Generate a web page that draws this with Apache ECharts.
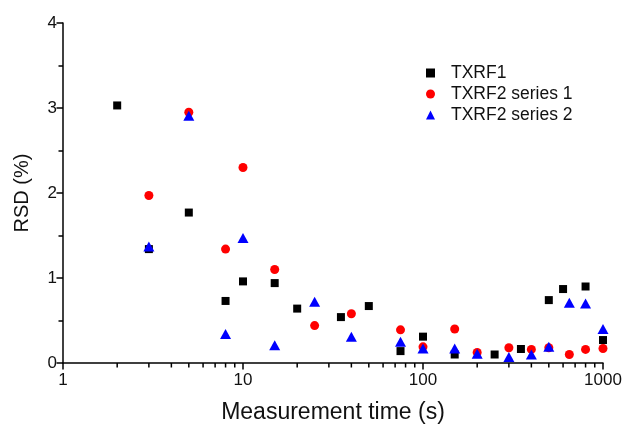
<!DOCTYPE html>
<html>
<head>
<meta charset="utf-8">
<script src="https://cdn.jsdelivr.net/npm/echarts@6/dist/echarts.min.js"></script>
<style>
html,body{margin:0;padding:0;background:#fff;}
#chart{width:630px;height:429px;}
</style>
</head>
<body>
<div id="chart"></div>
<script>
// TXRF1 (black squares)
const txrf1Time = [2, 3, 5, 8, 10, 15, 20, 35, 50, 75, 100, 150, 250, 350, 500, 600, 800, 1000];
const txrf1Rsd  = [3.03, 1.34, 1.77, 0.73, 0.96, 0.94, 0.64, 0.54, 0.67, 0.14, 0.31, 0.10, 0.10, 0.165, 0.74, 0.87, 0.90, 0.27];
// TXRF2 series 1 (red circles)
const s1Time = [3, 5, 8, 10, 15, 25, 40, 75, 100, 150, 200, 300, 400, 500, 650, 800, 1000];
const s1Rsd  = [1.97, 2.95, 1.34, 2.30, 1.10, 0.44, 0.58, 0.39, 0.19, 0.40, 0.125, 0.18, 0.16, 0.18, 0.10, 0.16, 0.17];
// TXRF2 series 2 (blue triangles)
const s2Time = [3, 5, 8, 10, 15, 25, 40, 75, 100, 150, 200, 300, 400, 500, 650, 800, 1000];
const s2Rsd  = [1.37, 2.91, 0.34, 1.47, 0.21, 0.72, 0.31, 0.25, 0.17, 0.17, 0.11, 0.07, 0.10, 0.19, 0.71, 0.70, 0.40];

const seriesNames = ['TXRF1', 'TXRF2 series 1', 'TXRF2 series 2'];
// minor tick positions of the log time axis (2..9 of each decade)
const minorXTicks = [2,3,4,5,6,7,8,9,20,30,40,50,60,70,80,90,200,300,400,500,600,700,800,900];

const FONT = 'Liberation Sans, Arial, Helvetica, sans-serif';
const zip = (a, b) => a.map((v, i) => [v, b[i]]);

const chart = echarts.init(document.getElementById('chart'), null, {renderer: 'canvas'});
chart.setOption({
  animation: false,
  backgroundColor: '#fff',
  textStyle: {fontFamily: FONT},
  grid: {left: 63, right: 27, top: 23, bottom: 66},
  legend: {
    orient: 'vertical',
    left: 421,
    top: 59,
    itemWidth: 9,
    itemHeight: 9,
    itemGap: 3,
    textStyle: {fontFamily: FONT, fontSize: 17.5, color: '#111', padding: [0, 0, 0, 11]},
    data: [
      {name: seriesNames[0], icon: 'rect'},
      {name: seriesNames[1], icon: 'circle'},
      {name: seriesNames[2], icon: 'triangle'}
    ]
  },
  xAxis: {
    type: 'log',
    logBase: 10,
    min: 1,
    max: 1000,
    name: 'Measurement time (s)',
    nameLocation: 'middle',
    nameGap: 38,
    nameTextStyle: {fontFamily: FONT, fontSize: 23, color: '#111'},
    axisLine: {lineStyle: {color: '#000', width: 1.5}},
    axisTick: {length: 6.5, lineStyle: {color: '#000', width: 1.5}},
    axisLabel: {fontFamily: FONT, fontSize: 17, color: '#111', margin: 9,
      formatter: v => String(Math.round(v))},
    splitLine: {show: false}
  },
  yAxis: {
    type: 'value',
    min: 0,
    max: 4,
    interval: 1,
    name: 'RSD (%)',
    nameLocation: 'middle',
    nameGap: 31,
    nameRotate: 90,
    nameTextStyle: {fontFamily: FONT, fontSize: 20, color: '#111'},
    axisLine: {show: true, lineStyle: {color: '#000', width: 1.5}},
    axisTick: {show: true, length: 6.5, lineStyle: {color: '#000', width: 1.5}},
    minorTick: {show: true, splitNumber: 2, length: 4.5, lineStyle: {color: '#000', width: 1.5}},
    axisLabel: {fontFamily: FONT, fontSize: 17, color: '#111', margin: 6},
    splitLine: {show: false},
    minorSplitLine: {show: false}
  },
  series: [{
    name: seriesNames[0],
    type: 'scatter',
    symbol: 'rect',
    symbolSize: 8,
    itemStyle: {color: '#000', opacity: 1},
    data: zip(txrf1Time, txrf1Rsd)
  }, {
    name: seriesNames[1],
    type: 'scatter',
    symbol: 'circle',
    symbolSize: 9,
    itemStyle: {color: '#ff0000', opacity: 1},
    data: zip(s1Time, s1Rsd)
  }, {
    name: seriesNames[2],
    type: 'scatter',
    symbol: 'triangle',
    symbolSize: [11, 10],
    itemStyle: {color: '#0000ff', opacity: 1},
    data: zip(s2Time, s2Rsd)
  }, {
    // minor ticks of the log x axis, placed through the axis scale
    name: 'minorTicks',
    type: 'scatter',
    silent: true,
    clip: false,
    symbol: 'rect',
    symbolSize: [1.5, 4.5],
    symbolOffset: [0, 2.25],
    itemStyle: {color: '#000', opacity: 1},
    z: 10,
    data: minorXTicks.map(v => [v, 0])
  }]
});
</script>
</body>
</html>
